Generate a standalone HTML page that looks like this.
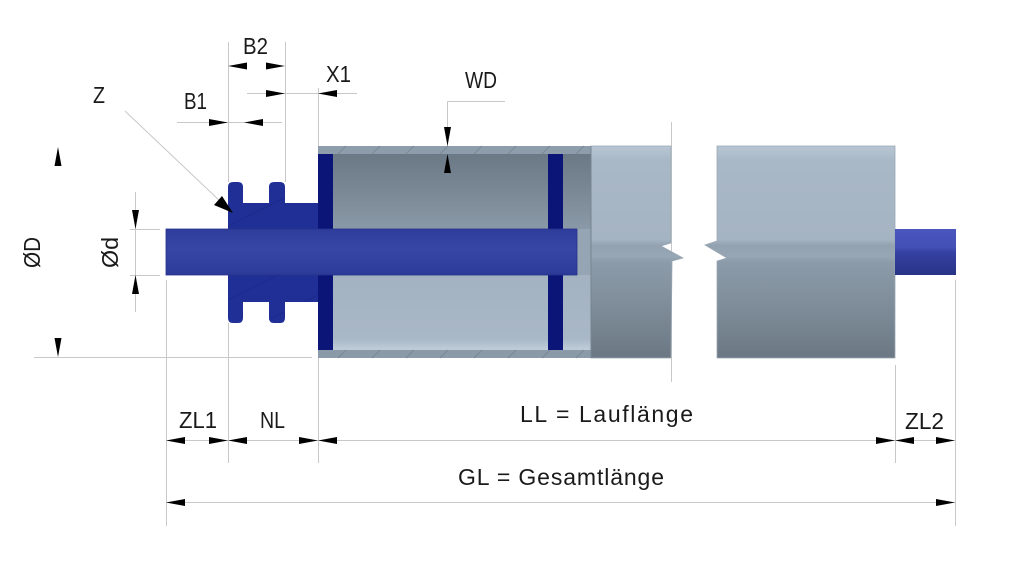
<!DOCTYPE html>
<html>
<head>
<meta charset="utf-8">
<style>
html,body{margin:0;padding:0;background:#fff;}
svg{display:block;}
text{font-family:"Liberation Sans",sans-serif;font-size:23px;fill:#1a1a1a;}
</style>
</head>
<body>
<svg width="1024" height="576" viewBox="0 0 1024 576" xmlns="http://www.w3.org/2000/svg">
<defs>
  <linearGradient id="outer" x1="0" y1="146" x2="0" y2="358" gradientUnits="userSpaceOnUse">
    <stop offset="0" stop-color="#b8c6d2"/>
    <stop offset="0.07" stop-color="#a9b8c7"/>
    <stop offset="0.44" stop-color="#a5b4c3"/>
    <stop offset="0.47" stop-color="#93a2b0"/>
    <stop offset="0.52" stop-color="#97a6b4"/>
    <stop offset="0.55" stop-color="#8c9ba9"/>
    <stop offset="0.75" stop-color="#7f8d9a"/>
    <stop offset="1" stop-color="#6b7884"/>
  </linearGradient>
  <linearGradient id="upper" x1="0" y1="154" x2="0" y2="229" gradientUnits="userSpaceOnUse">
    <stop offset="0" stop-color="#6b7885"/>
    <stop offset="1" stop-color="#8a99a7"/>
  </linearGradient>
  <linearGradient id="lower" x1="0" y1="275" x2="0" y2="350" gradientUnits="userSpaceOnUse">
    <stop offset="0" stop-color="#a3b2c1"/>
    <stop offset="0.85" stop-color="#a9b8c7"/>
    <stop offset="1" stop-color="#c0cdd9"/>
  </linearGradient>
  <linearGradient id="shaft" x1="0" y1="229" x2="0" y2="275" gradientUnits="userSpaceOnUse">
    <stop offset="0" stop-color="#2e3c9b"/>
    <stop offset="0.45" stop-color="#3745a4"/>
    <stop offset="1" stop-color="#2c3a98"/>
  </linearGradient>
  <linearGradient id="stub" x1="0" y1="229" x2="0" y2="275" gradientUnits="userSpaceOnUse">
    <stop offset="0" stop-color="#4a56bd"/>
    <stop offset="0.4" stop-color="#4350b6"/>
    <stop offset="0.5" stop-color="#3542a3"/>
    <stop offset="1" stop-color="#283486"/>
  </linearGradient>
  <clipPath id="spr">
    <path d="M228,187 Q228,182 233,182 L238,182 Q243,182 243,187 L243,203 L269,203 L269,187 Q269,182 274,182 L280,182 Q285,182 285,187 L285,203 L318,203 L318,302 L285,302 L285,318 Q285,323 280,323 L274,323 Q269,323 269,318 L269,302 L243,302 L243,318 Q243,323 238,323 L233,323 Q228,323 228,318 Z"/>
  </clipPath>
</defs>

<!-- extension / dimension lines -->
<g stroke="#c8c8c8" stroke-width="1" fill="none">
  <line x1="228.5" y1="42" x2="228.5" y2="182"/>
  <line x1="228.5" y1="323" x2="228.5" y2="463"/>
  <line x1="285.5" y1="42" x2="285.5" y2="182"/>
  <line x1="318.5" y1="88" x2="318.5" y2="146"/>
  <line x1="318.5" y1="358" x2="318.5" y2="463"/>
  <line x1="166.5" y1="280" x2="166.5" y2="526"/>
  <line x1="955.5" y1="280" x2="955.5" y2="526"/>
  <line x1="895.5" y1="365" x2="895.5" y2="463"/>
  <line x1="671.5" y1="122" x2="671.5" y2="382"/>
  <line x1="247" y1="93.5" x2="357" y2="93.5"/>
  <line x1="177" y1="122.5" x2="282" y2="122.5"/>
  <line x1="125" y1="111" x2="222" y2="203"/>
  <line x1="34" y1="357.5" x2="312" y2="357.5"/>
  <line x1="135.5" y1="192" x2="135.5" y2="312"/>
  <line x1="130" y1="229.5" x2="160" y2="229.5"/>
  <line x1="130" y1="275.5" x2="160" y2="275.5"/>
  <line x1="447.5" y1="101.5" x2="505" y2="101.5"/>
  <line x1="447.5" y1="101.5" x2="447.5" y2="191"/>
  <line x1="166" y1="440.5" x2="955" y2="440.5"/>
  <line x1="166" y1="502.5" x2="955" y2="502.5"/>
</g>

<!-- tube cut section -->
<rect x="318" y="146" width="273" height="8" fill="#8e9dab"/>
<rect x="318" y="350" width="273" height="8" fill="#8b9aa8"/>
<rect x="318" y="154" width="273" height="75" fill="url(#upper)"/>
<rect x="318" y="229" width="273" height="46" fill="#96a5b3"/>
<rect x="318" y="275" width="273" height="75" fill="url(#lower)"/>
<g stroke="#7a8997" stroke-width="1">
  <line x1="338" y1="154" x2="346" y2="146"/>
  <line x1="372" y1="154" x2="380" y2="146"/>
  <line x1="406" y1="154" x2="414" y2="146"/>
  <line x1="440" y1="154" x2="448" y2="146"/>
  <line x1="474" y1="154" x2="482" y2="146"/>
  <line x1="508" y1="154" x2="516" y2="146"/>
  <line x1="542" y1="154" x2="550" y2="146"/>
  <line x1="576" y1="154" x2="584" y2="146"/>
  <line x1="338" y1="358" x2="346" y2="350"/>
  <line x1="372" y1="358" x2="380" y2="350"/>
  <line x1="406" y1="358" x2="414" y2="350"/>
  <line x1="440" y1="358" x2="448" y2="350"/>
  <line x1="474" y1="358" x2="482" y2="350"/>
  <line x1="508" y1="358" x2="516" y2="350"/>
  <line x1="542" y1="358" x2="550" y2="350"/>
  <line x1="576" y1="358" x2="584" y2="350"/>
</g>

<!-- outer tube pieces -->
<polygon points="591,146 671,146 671,243 661,246 683,258 672,261 671,358 591,358" fill="url(#outer)" stroke="#9aa8b5" stroke-width="0.8"/>
<polygon points="717,146 895,146 895,358 717,358 717,261 727,258 705,245 717,241" fill="url(#outer)" stroke="#9aa8b5" stroke-width="0.8"/>
<line x1="591" y1="146" x2="591" y2="358" stroke="#77858f" stroke-width="1"/>

<!-- end caps -->
<rect x="318" y="154" width="15" height="196" fill="#0b1577"/>
<rect x="548" y="154" width="15" height="196" fill="#0b1577"/>

<!-- sprocket -->
<path d="M228,187 Q228,182 233,182 L238,182 Q243,182 243,187 L243,203 L269,203 L269,187 Q269,182 274,182 L280,182 Q285,182 285,187 L285,203 L318,203 L318,302 L285,302 L285,318 Q285,323 280,323 L274,323 Q269,323 269,318 L269,302 L243,302 L243,318 Q243,323 238,323 L233,323 Q228,323 228,318 Z" fill="#1f2f96"/>
<g stroke="#1a2888" stroke-width="0.8" clip-path="url(#spr)">
  <line x1="228" y1="226" x2="320" y2="180"/>
  <line x1="228" y1="300" x2="320" y2="254"/>
  <line x1="228" y1="340" x2="320" y2="294"/>
</g>

<!-- shaft -->
<rect x="166" y="229" width="411" height="46" fill="url(#shaft)" stroke="#26338c" stroke-width="0.8"/>
<!-- right stub -->
<rect x="895" y="229" width="61" height="46" fill="url(#stub)"/>

<!-- arrowheads -->
<g fill="#000">
  <polygon points="228,66 247,62.5 247,69.5"/>
  <polygon points="285,66 266,62.5 266,69.5"/>
  <polygon points="285,93.5 266,90 266,97"/>
  <polygon points="318,93.5 337,90 337,97"/>
  <polygon points="228,122.5 209,119 209,126"/>
  <polygon points="244,122.5 263,119 263,126"/>
  <polygon points="233,213 214,205 222,196"/>
  <polygon points="58,147 54.5,166 61.5,166"/>
  <polygon points="58,357 54.5,338 61.5,338"/>
  <polygon points="135.5,229 132,210 139,210"/>
  <polygon points="135.5,275 132,294 139,294"/>
  <polygon points="447.5,146 444,127 451,127"/>
  <polygon points="447.5,154 444,173 451,173"/>
  <polygon points="166,440.5 185,437 185,444"/>
  <polygon points="228,440.5 209,437 209,444"/>
  <polygon points="228,440.5 247,437 247,444"/>
  <polygon points="318,440.5 299,437 299,444"/>
  <polygon points="318,440.5 337,437 337,444"/>
  <polygon points="895,440.5 876,437 876,444"/>
  <polygon points="895,440.5 914,437 914,444"/>
  <polygon points="955,440.5 936,437 936,444"/>
  <polygon points="166,502.5 185,499 185,506"/>
  <polygon points="955,502.5 936,499 936,506"/>
</g>

<!-- labels -->
<text x="243" y="54" textLength="25" lengthAdjust="spacingAndGlyphs">B2</text>
<text x="326" y="82" textLength="25" lengthAdjust="spacingAndGlyphs">X1</text>
<text x="184" y="109" textLength="23" lengthAdjust="spacingAndGlyphs">B1</text>
<text x="93" y="103" textLength="12" lengthAdjust="spacingAndGlyphs">Z</text>
<text x="465" y="88" textLength="32" lengthAdjust="spacingAndGlyphs">WD</text>
<text x="179" y="428" textLength="38" lengthAdjust="spacingAndGlyphs">ZL1</text>
<text x="260" y="428" textLength="25" lengthAdjust="spacingAndGlyphs">NL</text>
<text x="520" y="422" textLength="173" lengthAdjust="spacing">LL = Lauflänge</text>
<text x="458" y="485" textLength="206" lengthAdjust="spacing">GL = Gesamtlänge</text>
<text x="905" y="429" textLength="39" lengthAdjust="spacingAndGlyphs">ZL2</text>
<text transform="translate(40,268) rotate(-90)" textLength="31" lengthAdjust="spacingAndGlyphs">ØD</text>
<text transform="translate(118,268) rotate(-90)" textLength="31" lengthAdjust="spacingAndGlyphs">Ød</text>
</svg>
</body>
</html>
